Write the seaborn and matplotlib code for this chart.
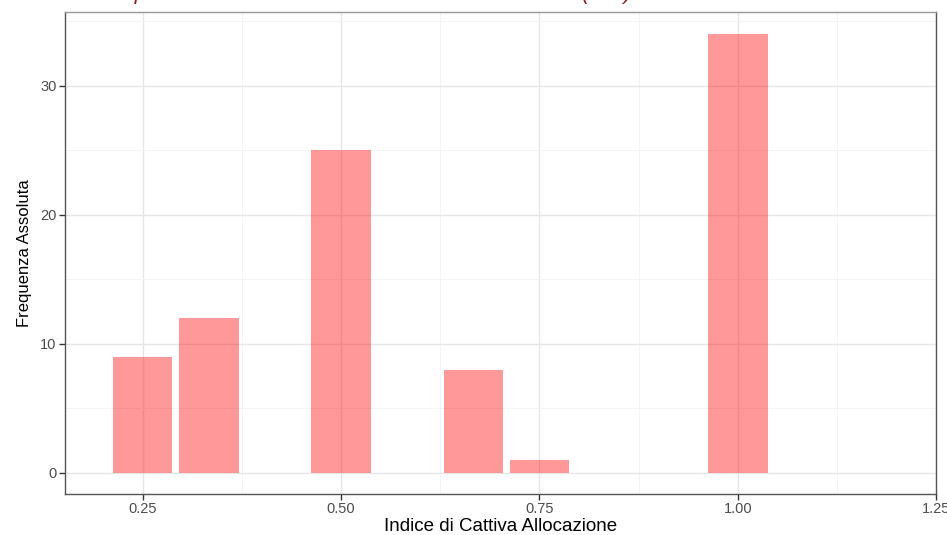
import numpy as np
import pandas as pd
import matplotlib
matplotlib.use('Agg')
import matplotlib.pyplot as plt
import seaborn as sns

# Indice di Cattiva Allocazione (ICA) values and their absolute frequencies
ica_values = [0.25, 1/3, 0.50, 2/3, 0.75, 1.00]
frequenze = [9, 12, 25, 8, 1, 34]

x_ticks = [0.25, 0.50, 0.75, 1.00, 1.25]
x_tick_labels = ['0.25', '0.50', '0.75', '1.00', '1.25']
y_ticks = [0, 10, 20, 30]

titolo = "Grafico 4: Frequenza assoluta dell'Indice di cattiva allocazione (ICA)"

df = pd.DataFrame({'ICA': ica_values, 'Freq': frequenze})

sns.set_theme(style='white')
plt.rcParams['font.family'] = ['Liberation Sans', 'DejaVu Sans']

fig = plt.figure(figsize=(9.47, 5.35), dpi=100)
ax = fig.add_axes([0.0686, 0.0766, 0.92, 0.901])

sns.barplot(data=df, x='ICA', y='Freq', native_scale=True, width=0.9,
            color='#ff0000', saturation=1, alpha=0.4, linewidth=0,
            ax=ax, zorder=3)

ax.set_xlim(0.152, 1.25)
ax.set_ylim(-1.63, 35.7)
ax.set_xticks(x_ticks)
ax.set_xticklabels(x_tick_labels)
ax.set_yticks(y_ticks)
ax.set_xticks([0.375, 0.625, 0.875, 1.125], minor=True)
ax.set_yticks([5, 15, 25, 35], minor=True)

# ggplot theme_bw like grid
ax.grid(True, which='major', color='#e6e6e6', linewidth=1.0, zorder=0)
ax.grid(True, which='minor', color='#f2f2f2', linewidth=0.6, zorder=0)
ax.set_axisbelow(True)
ax.tick_params(which='minor', length=0)
ax.tick_params(which='major', length=4, width=1, color='#333333', labelsize=10.5,
               labelcolor='#4d4d4d', bottom=True, left=True, pad=2)
for s in ax.spines.values():
    s.set_color('#555555')
    s.set_linewidth(1.0)
ax.spines['top'].set_color('#999999')

ax.set_xlabel('Indice di Cattiva Allocazione', fontsize=13.5, color='black', labelpad=1)
ax.set_ylabel('Frequenza Assoluta', fontsize=12, color='black', labelpad=6)

# title cut off at the top of the picture
fig.text(0.0, 0.9995, titolo, fontsize=15, style='italic', color='#8b1a1a',
         ha='left', va='baseline')

fig.savefig('out.png', dpi=100)
